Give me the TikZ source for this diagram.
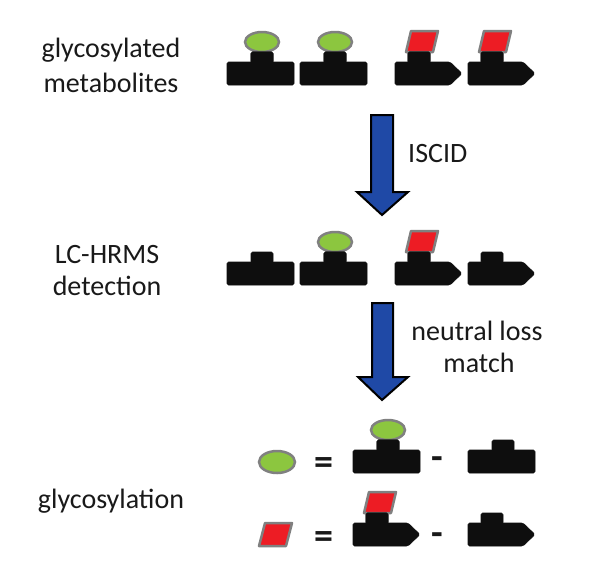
\documentclass[tikz,border=0pt]{standalone}
\usepackage{fontspec}
\setmainfont{Carlito}
\definecolor{gfill}{RGB}{140,198,63}
\definecolor{rfill}{RGB}{237,28,36}
\definecolor{edgegray}{RGB}{128,128,128}
\definecolor{blk}{RGB}{14,14,14}
\definecolor{arrowblue}{RGB}{31,73,166}
\definecolor{txt}{RGB}{25,25,25}
\tikzset{
  blockfill/.style={fill=blk,draw=blk,line width=0.6pt,rounded corners=1.5pt},
  sugarA/.style={fill=gfill,draw=edgegray,line width=2.5pt},
  sugarB/.style={fill=rfill,draw=edgegray,line width=2.5pt,line join=round},
  bigarrow/.style={fill=arrowblue,draw=black,line width=2pt,line join=miter},
  lbl/.style={font=\fontsize{28}{34}\selectfont,text=txt,inner sep=0pt,anchor=base},
  opsym/.style={font=\fontsize{38}{44}\selectfont\bfseries,text=txt,inner sep=0pt},
  tblock/.pic={
    \path[blockfill] (0,0) rectangle (67,23);
    \path[blockfill] (24,-10) rectangle (46,1);
  },
  ablock/.pic={
    \path[blockfill] (0,0) -- (55,0) -- (67,11.5) -- (55,23) -- (0,23) -- cycle;
    \path[blockfill] (13,-10) rectangle (35,1);
  },
  tsugar/.pic={
    \draw[sugarA] (35,-20) ellipse[x radius=17,y radius=10];
    \path[blockfill] (24,-10) rectangle (46,1);
  },
  asugar/.pic={
    \draw[sugarB] (11,-10) -- (38,-10) -- (43,-31) -- (16,-31) -- cycle;
    \path[blockfill] (13,-10) rectangle (35,1);
  }
}
\begin{document}
\begin{tikzpicture}[x=1pt,y=-1pt]
\useasboundingbox (0,0) rectangle (609,579);
% labels
\node[lbl] (l1a) at (111,57) {glycosylated};
\node[lbl] (l1b) at (111,92) {metabolites};
\node[lbl,anchor=base west] (l2) at (408,162) {ISCID};
\node[lbl] (l3a) at (107,263) {LC-HRMS};
\node[lbl] (l3b) at (107,295) {detection};
\node[lbl] (l4a) at (477,340) {neutral loss};
\node[lbl] (l4b) at (479,372) {match};
\node[lbl] (l5) at (111,508) {glycosylation};
% row 1
\pic (r1a) at (227,62) {tsugar};
\pic (r1aa) at (227,62) {tblock};
\pic (r1b) at (300,62) {tsugar};
\pic (r1bb) at (300,62) {tblock};
\pic (r1c) at (395,62) {asugar};
\pic (r1cc) at (395,62) {ablock};
\pic (r1d) at (468,62) {asugar};
\pic (r1dd) at (468,62) {ablock};
% arrow 1
\draw[bigarrow] (371,115) -- (393,115) -- (393,192) -- (408,192) -- (382,215) -- (357,192) -- (371,192) -- cycle;
% row 2
\pic (r2a) at (227,262) {tblock};
\pic (r2b) at (300,262) {tsugar};
\pic (r2bb) at (300,262) {tblock};
\pic (r2c) at (395,262) {asugar};
\pic (r2cc) at (395,262) {ablock};
\pic (r2d) at (468,262) {ablock};
% arrow 2
\draw[bigarrow] (372,303) -- (393,303) -- (393,377) -- (408,377) -- (382,400) -- (358,377) -- (372,377) -- cycle;
% row 3
\draw[sugarA] (277,462) ellipse[x radius=18,y radius=11];
\node[opsym] (eq1) at (324,466) {=};
\pic (r3a) at (353,450) {tsugar};
\pic (r3aa) at (353,450) {tblock};
\node[opsym] (mi1) at (437,463) {-};
\pic (r3b) at (468,450) {tblock};
% row 4
\draw[sugarB] (259,546) -- (286,546) -- (292,523) -- (265,523) -- cycle;
\node[opsym] (eq2) at (324,540) {=};
\pic (r4a) at (353,523) {asugar};
\pic (r4aa) at (353,523) {ablock};
\node[opsym] (mi2) at (437,539) {-};
\pic (r4b) at (468,523) {ablock};
\end{tikzpicture}
\end{document}
